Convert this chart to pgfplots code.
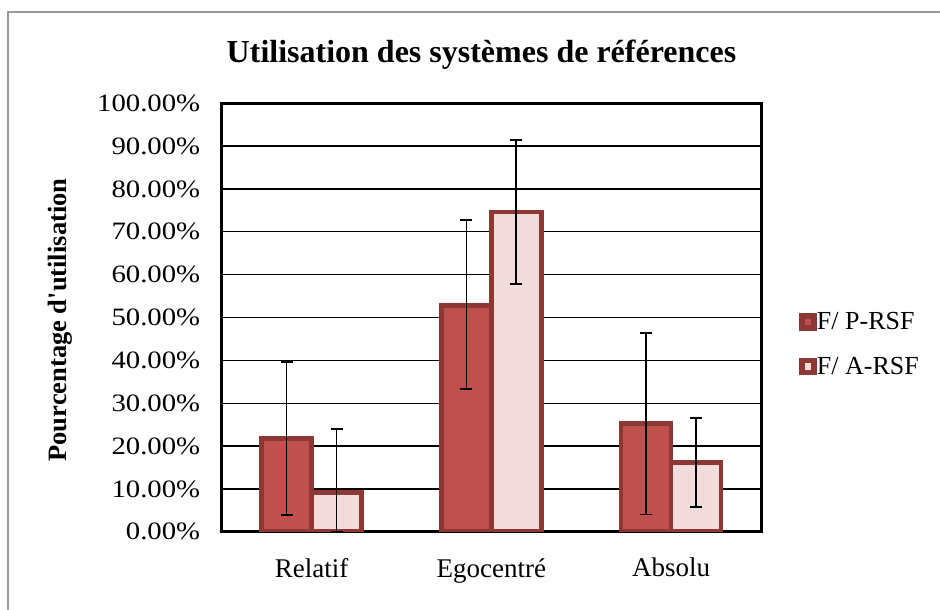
\documentclass[border=0pt]{standalone}
\usepackage{graphicx}
\usepackage{pgfplots}
\pgfplotsset{compat=1.18}
\usepackage{fontspec}
\setmainfont{Liberation Serif}[Ligatures=TeXOff]
\definecolor{pfill}{HTML}{C0504D}
\definecolor{afill}{HTML}{F2DCDB}
\definecolor{bord}{HTML}{8E3836}
\begin{document}
\begin{tikzpicture}[x=1pt,y=1pt]
\useasboundingbox (0,0) rectangle (940,-610);
\fill[white] (0,0) rectangle (940,-610);
\draw[gray!80, line width=1.5pt] (8,-615) -- (8,-12) -- (945,-12);
\node[font=\fontsize{32}{36}\selectfont\bfseries, anchor=base] at (481.5,-62.5) {Utilisation des systèmes de références};
\node[font=\fontsize{26.5}{30}\selectfont\bfseries, rotate=90] at (60,-320) {Pourcentage d'utilisation};
\begin{axis}[
  at={(221.7pt,-531.7pt)}, anchor=south west,
  scale only axis, width=539.3pt, height=428.4pt,
  xmin=-0.5, xmax=2.5, ymin=0, ymax=100,
  xtick={0,1,2}, xticklabels={Relatif,Egocentré,Absolu},
  ytick={0,10,...,100},
  yticklabel={\scalebox{1.15}[1]{\pgfmathprintnumber[fixed,fixed zerofill,precision=2]{\tick}\%}},
  /pgf/number format/assume math mode=true,
  yticklabel style={font=\fontsize{25}{30}\selectfont, xshift=-18pt},
  xticklabel style={font=\fontsize{27}{30}\selectfont, yshift=-23pt},
  ymajorgrids, grid style={black, line width=1.3pt},
  axis line style={black, line width=3pt},
  major tick length=0pt,
  ybar, bar width=0.278,
  legend style={at={(1.071,0.512)}, anchor=north west, draw=none, fill=none,
    font=\fontsize{26}{30}\selectfont, inner sep=0pt, row sep=26pt,
    nodes={inner sep=0pt}, /tikz/every even column/.append style={column sep=9pt}},
  legend cell align=left,
  legend image code/.code={\draw[#1, line width=5.5pt] (0pt,-6pt) rectangle (12pt,6pt);},
  error bars/y dir=both, error bars/y explicit,
  error bars/error bar style={black, line width=1.7pt},
  error bars/error mark options={rotate=90, mark size=6pt, line width=1.7pt, black},
]
\addplot[bar shift=-0.139, fill=pfill, draw=bord, line width=4.6pt]
  coordinates {(0,21.7) += (0,17.9) -= (0,17.8)
               (1,52.8) += (0,19.9) -= (0,19.5)
               (2,25.2) += (0,21.2) -= (0,21.2)};
\addlegendentry{F/ P-RSF}
\addplot[bar shift=0.139, fill=afill, draw=bord, line width=4.6pt]
  coordinates {(0,9.1) += (0,14.8) -= (0,9.1)
               (1,74.6) += (0,16.8) -= (0,16.7)
               (2,16.2) += (0,10.4) -= (0,10.4)};
\addlegendentry{F/ A-RSF}
\end{axis}
\end{tikzpicture}
\end{document}
